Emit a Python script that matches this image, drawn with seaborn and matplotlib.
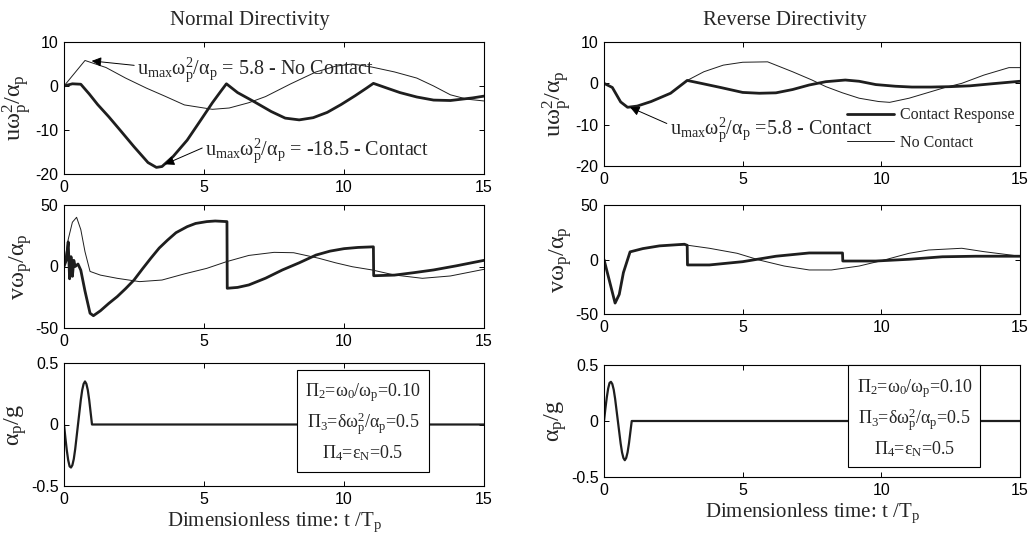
import pandas as pd
import matplotlib
matplotlib.use("Agg")
import matplotlib.pyplot as plt
import seaborn as sns

# ---- data (t / Tp on x) ----
# top row: normalised relative displacement
t_u_nc_L = [0, 0.75, 1.5, 2.2, 2.95, 3.6, 4.3, 5.3, 5.9, 6.6, 7.2, 8.1, 9.0, 9.7, 10.3, 11.0, 11.8, 12.6, 13.2, 13.8, 14.4, 15]
u_nc_L = [0, 5.8, 4.2, 1.8, -0.5, -2.3, -4.3, -5.3, -5.0, -3.8, -2.4, 0.5, 3.2, 4.5, 5.0, 4.3, 3.2, 1.8, 0.0, -2.0, -3.0, -3.4]

t_u_c_L = [0, 0.3, 0.6, 0.9, 1.2, 1.6, 2.0, 2.5, 3.0, 3.3, 3.5, 3.9, 4.4, 4.9, 5.3, 5.6, 5.8, 6.2, 6.8, 7.4, 7.9, 8.4,
           8.9, 9.4, 9.9, 10.4, 10.8, 11.05, 11.5, 12.0, 12.6, 13.2, 13.8, 14.2, 14.6, 15]
u_c_L = [0, 0.5, 0.4, -1.8, -4.2, -7.0, -10.0, -13.8, -17.4, -18.5, -18.3, -16.0, -12.3, -7.6, -3.8, -1.2, 0.5, -1.5,
         -3.6, -5.8, -7.3, -7.7, -7.2, -6.0, -4.2, -2.2, -0.5, 0.6, -0.4, -1.5, -2.5, -3.2, -3.3, -3.0, -2.7, -2.3]

t_u_nc_R = [0, 0.3, 0.6, 0.85, 1.2, 1.7, 2.4, 3.0, 3.6, 4.3, 5.0, 5.9, 6.8, 7.5, 8.0, 8.6, 9.2, 9.9, 10.3, 11.0,
            11.6, 12.3, 12.9, 13.7, 14.6, 15]
u_nc_R = [0, -1.0, -4.5, -5.8, -5.5, -4.4, -2.4, 0.7, 2.8, 4.4, 5.1, 5.2, 2.8, 0.8, -0.8, -2.3, -3.6, -4.4, -4.6,
          -3.6, -2.4, -1.0, 0.0, 2.0, 3.8, 3.8]

t_u_c_R = [0, 0.3, 0.6, 0.85, 1.2, 1.7, 2.4, 3.0, 3.5, 4.2, 5.0, 5.6, 6.2, 6.8, 7.4, 8.0, 8.7, 9.2, 9.8, 10.5, 11.1,
           11.8, 12.5, 13.2, 14.0, 15]
u_c_R = [0, -1.0, -4.5, -5.8, -5.5, -4.4, -2.4, 0.7, 0.0, -1.0, -2.2, -2.4, -2.3, -1.5, -0.4, 0.4, 0.8, 0.5, -0.3,
         -0.7, -0.9, -0.9, -0.8, -0.6, -0.1, 0.5]

# middle row: normalised relative velocity
t_v_nc_L = [0, 0.15, 0.3, 0.45, 0.6, 0.75, 0.93, 1.3, 1.9, 2.7, 3.5, 4.3, 5.1, 5.8, 6.6, 7.5, 8.2, 9.1, 9.7, 10.3,
            11.0, 11.8, 12.8, 13.8, 15]
v_nc_L = [0, 22, 36, 40, 30, 12, -4, -7, -9.6, -12.3, -11, -6, -1.5, 3.9, 9, 11.5, 11.2, 6.7, 3, -0.2, -2.8, -6.9,
          -9.6, -7.7, -2.3]

t_v_c_L = [0, 0.08, 0.15, 0.2, 0.25, 0.3, 0.35, 0.4, 0.5, 0.6, 0.75, 0.93, 1.05, 1.3, 1.6, 1.9, 2.2, 2.5, 2.8, 3.1,
           3.4, 3.7, 4.0, 4.4, 4.7, 5.1, 5.4, 5.82, 5.83, 6.2, 6.6, 7.2, 7.8, 8.4, 9.0, 9.5, 10.0, 10.5, 11.05,
           11.06, 11.8, 12.5, 13.2, 14.0, 15]
v_c_L = [0, 5, 20, -10, 8, -8, 5, 0, 2, -3, -20, -38, -40, -36, -30, -24.5, -18, -11, -2, 6.7,
         15, 21.5, 27.5, 32.4, 35, 36.5, 37, 36.5, -17.7, -17, -15, -9.5, -2.8, 3, 9.3, 12.5, 14.5, 15.5, 16,
         -7.5, -7, -5, -2.8, 0.5, 5]

t_v_nc_R = [0, 0.2, 0.4, 0.55, 0.7, 0.94, 1.4, 2.0, 2.9, 3.8, 4.8, 5.6, 6.5, 7.4, 8.2, 9.2, 10.1, 11.0, 11.7, 12.9,
            13.7, 15]
v_nc_R = [0, -20, -40, -32, -12, 7, 10, 12.5, 13.5, 10.3, 5.7, -0.5, -6, -9.6, -9.6, -6, -0.5, 5.7, 8.7, 10.3, 7.2, 3]

t_v_c_R = [0, 0.2, 0.4, 0.55, 0.7, 0.94, 1.4, 2.0, 2.9, 3.0, 3.01, 3.8, 5.0, 6.2, 7.4, 8.6, 8.61, 9.8, 11.0, 12.2,
           13.4, 15]
v_c_R = [0, -20, -40, -32, -12, 7, 10, 12.5, 14, 13, -5, -5, -2, 3, 6, 6, -1.4, -1.4, 0.2, 2.5, 3, 3]

# bottom row: ground acceleration pulse
t_g = [0, 0.05, 0.1, 0.15, 0.2, 0.25, 0.3, 0.35, 0.4, 0.45, 0.5, 0.55, 0.6, 0.65, 0.7, 0.75, 0.8, 0.85, 0.9, 0.95, 1.0, 15]
a_L = [0, -0.11, -0.21, -0.29, -0.34, -0.35, -0.33, -0.28, -0.2, -0.1, 0, 0.1, 0.2, 0.28, 0.33, 0.35, 0.33, 0.28,
       0.2, 0.1, 0, 0]
a_R = [0, 0.11, 0.21, 0.29, 0.34, 0.35, 0.33, 0.28, 0.2, 0.1, 0, -0.1, -0.2, -0.28, -0.33, -0.35, -0.33, -0.28,
       -0.2, -0.1, 0, 0]

x_ticks = [0, 5, 10, 15]
u_ticks = [-20, -10, 0, 10]
v_ticks = [-50, 0, 50]
a_ticks = [-0.5, 0, 0.5]

titles = ["Normal Directivity", "Reverse Directivity"]
param_text = ("$\\Pi_2$=$\\omega_0$/$\\omega_p$=0.10\n"
              "$\\Pi_3$=$\\delta\\omega_p^2$/$\\alpha_p$=0.5\n"
              "$\\Pi_4$=$\\varepsilon_N$=0.5")

sns.set_theme(context="paper", style="ticks")
plt.rcParams.update({
    "font.family": "Liberation Serif",
    "mathtext.fontset": "custom",
    "mathtext.rm": "Liberation Serif",
    "mathtext.it": "Liberation Serif",
    "mathtext.default": "regular",
    "axes.unicode_minus": False,
    "axes.linewidth": 0.8,
    "axes.edgecolor": "black",
    "xtick.direction": "in",
    "ytick.direction": "in",
    "xtick.top": True,
    "ytick.right": True,
})

INK = "#1e1e1e"
W, H = 1031, 537
fig = plt.figure(figsize=(W / 100, H / 100), dpi=100)


def px_axes(x0, x1, y0, y1):
    return fig.add_axes([x0 / W, 1 - y1 / H, (x1 - x0) / W, (y1 - y0) / H])


def line(ax, t, y, lw, label=None):
    df = pd.DataFrame({"t": t, "y": y})
    sns.lineplot(data=df, x="t", y="y", ax=ax, color=INK, linewidth=lw,
                 estimator=None, sort=False, label=label, legend=False)


def style(ax, yticks, ylabel):
    ax.set_xlim(0, 15)
    ax.set_ylim(yticks[0], yticks[-1])
    ax.set_xticks(x_ticks)
    ax.set_yticks(yticks)
    ax.set_yticklabels([("%g" % v) for v in yticks])
    ax.tick_params(labelsize=11.5, labelfontfamily="Liberation Sans", length=3.5, width=0.7, pad=4,
                   colors="black")
    ax.set_xlabel("")
    ax.set_ylabel(ylabel, fontsize=17.5, labelpad=1)


ax_uL = px_axes(64, 484, 42, 174)
ax_vL = px_axes(64, 484, 205, 328)
ax_aL = px_axes(64, 484, 363, 486)
ax_uR = px_axes(604, 1020, 42, 166)
ax_vR = px_axes(604, 1020, 205, 314)
ax_aR = px_axes(604, 1020, 365, 477)

# displacement
line(ax_uL, t_u_nc_L, u_nc_L, 0.7)
line(ax_uL, t_u_c_L, u_c_L, 2.0)
line(ax_uR, t_u_nc_R, u_nc_R, 0.7, "No Contact")
line(ax_uR, t_u_c_R, u_c_R, 2.0, "Contact Response")
ulab = r"$u\omega_p^2/\alpha_p$"
style(ax_uL, u_ticks, ulab)
style(ax_uR, u_ticks, ulab)

# velocity
line(ax_vL, t_v_nc_L, v_nc_L, 0.7)
line(ax_vL, t_v_c_L, v_c_L, 2.0)
line(ax_vR, t_v_nc_R, v_nc_R, 0.7)
line(ax_vR, t_v_c_R, v_c_R, 2.0)
vlab = r"$v\omega_p/\alpha_p$"
style(ax_vL, v_ticks, vlab)
style(ax_vR, v_ticks, vlab)

# ground acceleration
line(ax_aL, t_g, a_L, 1.6)
line(ax_aR, t_g, a_R, 1.6)
alab = r"$\alpha_p/g$"
style(ax_aL, a_ticks, alab)
style(ax_aR, a_ticks, alab)
for ax in (ax_aL, ax_aR):
    ax.set_xlabel(r"Dimensionless time: t /$T_p$", fontsize=15, labelpad=3)

box = dict(boxstyle="square,pad=0.45", fc="white", ec="black", lw=0.8)
ax_aL.text(0.712, 0.52, param_text, transform=ax_aL.transAxes, ha="center", va="center",
           fontsize=13, linespacing=1.4, bbox=box, zorder=5)
ax_aR.text(0.746, 0.527, param_text, transform=ax_aR.transAxes, ha="center", va="center",
           fontsize=13, linespacing=1.4, bbox=box, zorder=5)

# titles
fig.text(250 / W, 1 - 20 / H, titles[0], ha="center", va="center", fontsize=15)
fig.text(785 / W, 1 - 20 / H, titles[1], ha="center", va="center", fontsize=15)

# peak annotations
arrow = dict(arrowstyle="-|>", color="black", lw=0.7, mutation_scale=14, shrinkA=0, shrinkB=0,
             relpos=(0.0, 0.65))
ax_uL.annotate(r"$u_{max}\omega_p^2/\alpha_p$ = 5.8 - No Contact", xy=(0.99, 5.7), xytext=(2.62, 2.7),
               fontsize=14.5, ha="left", va="baseline", arrowprops=arrow)
ax_uL.annotate(r"$u_{max}\omega_p^2/\alpha_p$ = -18.5 - Contact", xy=(3.6, -17.8), xytext=(5.05, -15.7),
               fontsize=14.5, ha="left", va="baseline", arrowprops=arrow)
ax_uR.annotate(r"$u_{max}\omega_p^2/\alpha_p$ =5.8 - Contact", xy=(0.94, -5.8), xytext=(2.38, -12.1),
               fontsize=14.5, ha="left", va="baseline", arrowprops=arrow)

handles, labels = ax_uR.get_legend_handles_labels()
order = [labels.index("Contact Response"), labels.index("No Contact")]
ax_uR.legend([handles[i] for i in order], [labels[i] for i in order], loc="upper left",
             bbox_to_anchor=(0.585, 0.475), frameon=False, fontsize=11.5, handlelength=2.9,
             handletextpad=0.4, labelspacing=0.75, borderpad=0, borderaxespad=0)

fig.savefig("out.png", dpi=100)
plt.close(fig)
